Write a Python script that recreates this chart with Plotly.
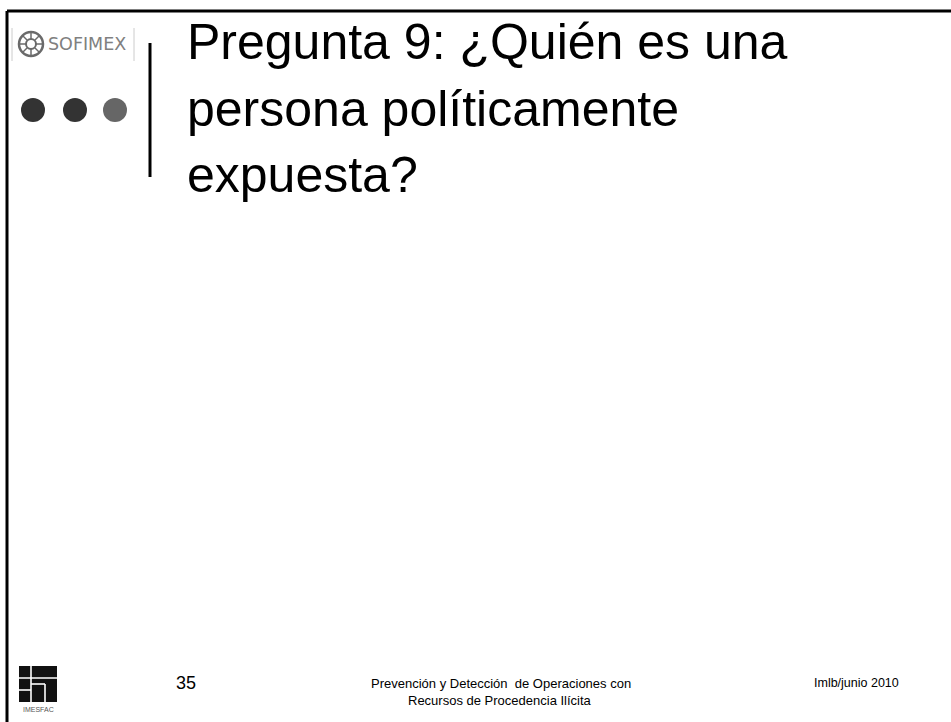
import plotly.graph_objects as go

# slide texts
title_lines = ["Pregunta 9: ¿Quién es una", "persona políticamente", "expuesta?"]
slide_number = "35"
footer_lines = ["Prevención y Detección  de Operaciones con", "Recursos de Procedencia Ilícita"]
footer_right = "Imlb/junio 2010"
logo_top = "SOFIMEX"
logo_bottom = "IMESFAC"

W, H = 951, 722
FONT = "Liberation Sans, Arial, sans-serif"

fig = go.Figure()

shapes = []
# frame (top and left only)
shapes.append(dict(type="line", x0=7, y0=11, x1=W, y1=11, line=dict(color="black", width=3)))
shapes.append(dict(type="line", x0=7, y0=11, x1=7, y1=H, line=dict(color="black", width=3)))

# SOFIMEX logo box
shapes.append(dict(type="line", x0=12, y0=28, x1=12, y1=61, line=dict(color="#cccccc", width=1)))
shapes.append(dict(type="line", x0=134, y0=28, x1=134, y1=61, line=dict(color="#cccccc", width=1)))
shapes.append(dict(type="circle", x0=19, y0=32, x1=43, y1=56, line=dict(color="#6a6a6a", width=2.5),
                   fillcolor="white"))
shapes.append(dict(type="circle", x0=26, y0=39, x1=36, y1=49, line=dict(color="#6a6a6a", width=2),
                   fillcolor="white"))
for (a, b, c, d) in [(31, 33, 31, 39), (31, 49, 31, 55), (20, 44, 26, 44), (36, 44, 42, 44),
                     (23, 36, 27, 40), (35, 48, 39, 52), (39, 36, 35, 40), (27, 48, 23, 52)]:
    shapes.append(dict(type="line", x0=a, y0=b, x1=c, y1=d, line=dict(color="#6a6a6a", width=1.5)))

# three dots
for cx, col in [(33, "#333333"), (75, "#333333"), (115, "#666666")]:
    shapes.append(dict(type="circle", x0=cx - 12, y0=98, x1=cx + 12, y1=122,
                       line=dict(width=0), fillcolor=col))

# vertical bar beside the title
shapes.append(dict(type="line", x0=150, y0=43, x1=150, y1=177, line=dict(color="black", width=3)))

# IMESFAC logo
shapes.append(dict(type="rect", x0=19, y0=666, x1=57, y1=702, line=dict(width=0), fillcolor="#111111"))
for (a, b, c, d) in [(19, 678, 57, 678), (31, 666, 31, 702), (19, 690, 31, 690),
                     (31, 684, 45, 684), (45, 684, 45, 702)]:
    shapes.append(dict(type="line", x0=a, y0=b, x1=c, y1=d, line=dict(color="white", width=1.6)))

annotations = []
centers = [42, 109, 175]
for txt, yc in zip(title_lines, centers):
    annotations.append(dict(x=185, y=yc, text=txt, showarrow=False, xanchor="left", yanchor="middle",
                            font=dict(family=FONT, size=50, color="black")))

annotations.append(dict(x=46, y=44, text=logo_top, showarrow=False, xanchor="left", yanchor="middle",
                        font=dict(family="DejaVu Sans, sans-serif", size=17.5, color="#808080")))
annotations.append(dict(x=38, y=709, text=logo_bottom, showarrow=False, xanchor="center", yanchor="middle",
                        font=dict(family=FONT, size=7, color="#555555")))
annotations.append(dict(x=186, y=683, text=slide_number, showarrow=False, xanchor="center", yanchor="middle",
                        font=dict(family=FONT, size=18, color="black")))
annotations.append(dict(x=501, y=683, text=footer_lines[0], showarrow=False, xanchor="center", yanchor="middle",
                        font=dict(family=FONT, size=13, color="black")))
annotations.append(dict(x=500, y=700, text=footer_lines[1], showarrow=False, xanchor="center", yanchor="middle",
                        font=dict(family=FONT, size=13, color="black")))
annotations.append(dict(x=856, y=683, text=footer_right, showarrow=False, xanchor="center", yanchor="middle",
                        font=dict(family=FONT, size=12.5, color="black")))

fig.update_layout(
    width=W, height=H,
    margin=dict(l=0, r=0, t=0, b=0),
    paper_bgcolor="white", plot_bgcolor="white",
    xaxis=dict(range=[0, W], visible=False, fixedrange=True),
    yaxis=dict(range=[H, 0], visible=False, fixedrange=True),
    shapes=shapes, annotations=annotations,
    showlegend=False,
)

# drop the default page margin so the slide sits at the window's corner
fig.write_html("out.html", config={"displayModeBar": False},
               post_script="document.body.style.margin='0';document.body.style.overflow='hidden';")
